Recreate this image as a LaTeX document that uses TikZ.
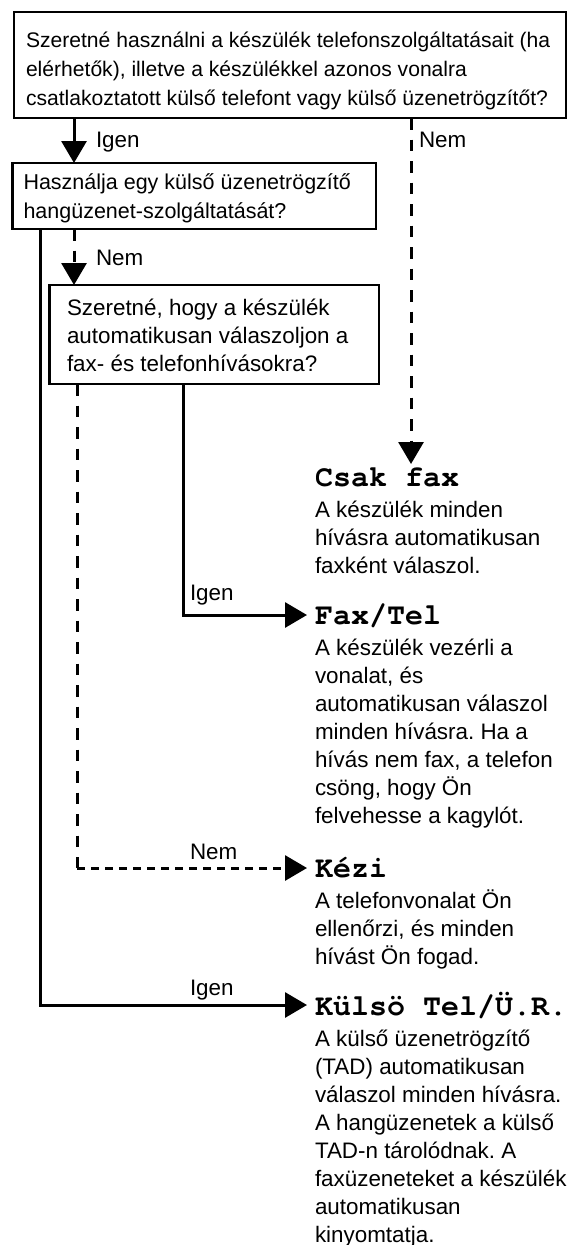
\documentclass[tikz,border=0pt]{standalone}
\usepackage{fontspec}
\setmainfont{Liberation Sans}
\newfontfamily\monofont{TeX Gyre Cursor}
\usetikzlibrary{arrows.meta,calc}
\tikzset{
  qbox/.style={draw, line width=2.8pt, inner sep=0pt, outer sep=0pt, anchor=north west, rectangle},
  txt/.style={anchor=north west, inner sep=0pt, outer sep=0pt, align=left},
  body/.style={txt, font=\fontsize{22.4}{28}\selectfont},
  ttl/.style={anchor=base west, inner sep=0pt, outer sep=0pt, font=\monofont\bfseries\fontsize{30}{30}\selectfont},
  lbl/.style={anchor=base west, inner sep=0pt, outer sep=0pt, font=\fontsize{22.4}{28}\selectfont},
  conn/.style={line width=3pt},
  tip/.style={-{Triangle[length=22pt,width=25pt]}},
  dashv/.style={dash pattern=on 11.5pt off 10pt},
  dashh/.style={dash pattern=on 8pt off 6pt}
}
\frenchspacing
\begin{document}
\begin{tikzpicture}[x=1pt,y=-1pt]
\fill[white] (0,0) rectangle (568,1245);
\useasboundingbox (0,0) rectangle (568,1245);

% question boxes
\node[qbox, minimum width=552pt, minimum height=106pt] (q1) at (14,12) {};
\node[txt, font=\fontsize{21.1}{29}\selectfont] (q1t) at (26,26.7)
  {\strut Szeretné használni a készülék telefonszolgáltatásait (ha\\
   elérhetők), illetve a készülékkel azonos vonalra\\
   csatlakoztatott külső telefont vagy külső üzenetrögzítőt?};

\node[qbox, minimum width=363.3pt, minimum height=66pt] (q2) at (12.7,163) {};
\node[txt, font=\fontsize{21.5}{29}\selectfont] (q2t) at (23.5,168.7)
  {\strut Használja egy külső üzenetrögzítő\\
   hangüzenet-szolgáltatását?};

\node[qbox, minimum width=329.4pt, minimum height=99pt] (q3) at (49.6,285) {};
\node[txt, font=\fontsize{22.4}{28}\selectfont] (q3t) at (67,295.4)
  {\strut Szeretné, hogy a készülék\\
   automatikusan válaszoljon a\\
   fax- és telefonhívásokra?};

% results
\node[ttl] (csak) at (315,486) {Csak fax};
\node[body] (csakd) at (315,497.4)
  {\strut A készülék minden\\ hívásra automatikusan\\ faxként válaszol.};

\node[ttl] (fax) at (315,624) {Fax/Tel};
\node[body] (faxd) at (315,635.4)
  {\strut A készülék vezérli a\\ vonalat, és\\ automatikusan válaszol\\ minden hívásra. Ha a\\ hívás nem fax, a telefon\\ csöng, hogy Ön\\ felvehesse a kagylót.};

\node[ttl] (kezi) at (315,877) {Kézi};
\node[body] (kezid) at (315,888.4)
  {\strut A telefonvonalat Ön\\ ellenőrzi, és minden\\ hívást Ön fogad.};

\node[ttl] (kulso) at (315,1015) {Külsö Tel/Ü.R.};
\node[body] (kulsod) at (315,1026.4)
  {\strut A külső üzenetrögzítő\\ (TAD) automatikusan\\ válaszol minden hívásra.\\ A hangüzenetek a külső\\ TAD-n tárolódnak. A\\ faxüzeneteket a készülék\\ automatikusan\\ kinyomtatja.};

% arrow end points
\coordinate (csakin) at (411,464);
\coordinate (faxin) at (307,615);
\coordinate (keziin) at (307,868);
\coordinate (kulsoin) at (307,1005);
\coordinate (kezicorner) at (77,868);

% connectors
\draw[conn, tip] ($(q1.south west)+(60,0)$) -- ($(q2.north west)+(61.3,0)$);
\draw[conn, dashv, tip] ($(q1.south west)+(397,0)$) -- (csakin);
\draw[conn, tip] ($(q2.south west)+(27.3,0)$) |- (kulsoin);
\draw[conn, dashv, tip] ($(q2.south west)+(61.3,0)$) -- ($(q3.north west)+(24.4,0)$);
\draw[conn, dashv] ($(q3.south west)+(27.4,0)$) -- (kezicorner);
\draw[conn, dashh, tip] (kezicorner) -- (keziin);
\draw[conn, tip] ($(q3.south west)+(133.4,0)$) |- (faxin);

% labels
\node[lbl] (l1) at (96,147) {Igen};
\node[lbl] (l2) at (419,147) {Nem};
\node[lbl] (l3) at (96,265) {Nem};
\node[lbl] (l4) at (190,600) {Igen};
\node[lbl] (l5) at (190,859) {Nem};
\node[lbl] (l6) at (190,995) {Igen};
\end{tikzpicture}
\end{document}
